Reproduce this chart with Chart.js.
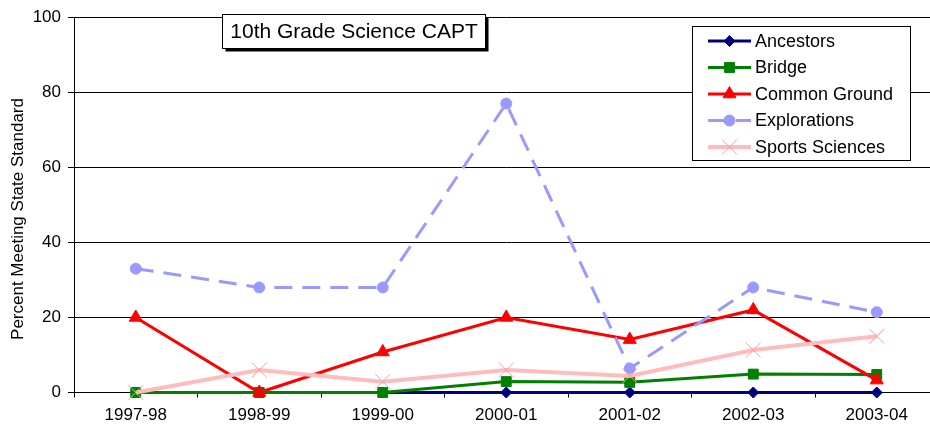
<!DOCTYPE html>
<html>
<head>
<meta charset="utf-8">
<script src="https://cdn.jsdelivr.net/npm/chart.js@4/dist/chart.umd.min.js"></script>
<style>
  html, body { margin: 0; padding: 0; background: #fff; overflow: hidden; }
  /* the category axis runs a few pixels past the right edge */
  #wrap { width: 930px; height: 432px; overflow: hidden; }
</style>
</head>
<body>
<div id="wrap"><canvas id="capt" width="950" height="432"></canvas></div>
<script>
  'use strict';

  const years = ['1997-98', '1998-99', '1999-00', '2000-01', '2001-02', '2002-03', '2003-04'];

  const ancestors = [0, 0, 0, 0, 0, 0, 0];
  const bridge = [0, 0, 0, 2.9, 2.7, 4.9, 4.8];
  const commonGround = [20, 0, 10.8, 20, 14.1, 22, 3.3];
  const explorations = [33, 28, 28, 77, 6.4, 28, 21.4];
  const sportsSciences = [0, 6, 2.9, 6, 4.4, 11.3, 15];

  const yTicks = [0, 20, 40, 60, 80, 100];

  const FONT = 'Arial, "Liberation Sans", sans-serif';
  const INK = '#000000';

  function series(label, data, color, style, extra) {
    return Object.assign({
      label: label,
      data: data,
      borderColor: color,
      backgroundColor: color,
      borderWidth: 3,
      pointStyle: style,
      pointRadius: 5,
      pointBorderWidth: 1,
      pointBorderColor: color,
      pointBackgroundColor: color,
      tension: 0,
      clip: false,
    }, extra || {});
  }

  // Excel-style boxes: chart title with drop shadow, legend inside the plot,
  // and the rotated value-axis title.
  const decorations = {
    id: 'decorations',
    afterDraw(chart) {
      const ctx = chart.ctx;
      ctx.save();

      // title box
      const tx = 222.5, ty = 14.5, tw = 263, th = 34;
      ctx.fillStyle = INK;
      ctx.fillRect(tx + 3, ty + 3, tw, th);
      ctx.fillStyle = '#fff';
      ctx.fillRect(tx, ty, tw, th);
      ctx.strokeStyle = INK;
      ctx.lineWidth = 1;
      ctx.strokeRect(tx, ty, tw, th);
      ctx.fillStyle = INK;
      ctx.font = '21px ' + FONT;
      ctx.textAlign = 'center';
      ctx.textBaseline = 'middle';
      ctx.fillText('10th Grade Science CAPT', tx + tw / 2, ty + th / 2 + 1);

      // legend box
      const lx = 692.5, ly = 26.5, lw = 218, lh = 134;
      ctx.fillStyle = '#fff';
      ctx.fillRect(lx, ly, lw, lh);
      ctx.strokeRect(lx, ly, lw, lh);
      ctx.font = '18px ' + FONT;
      ctx.textAlign = 'left';
      chart.data.datasets.forEach((ds, i) => {
        const y = 41 + i * 26.5;
        ctx.save();
        ctx.strokeStyle = ds.borderColor;
        ctx.lineWidth = ds.borderWidth;
        ctx.setLineDash(ds.borderDash || []);
        ctx.beginPath();
        ctx.moveTo(708, y);
        ctx.lineTo(751, y);
        ctx.stroke();
        ctx.setLineDash([]);
        ctx.fillStyle = ds.pointBackgroundColor;
        ctx.strokeStyle = ds.pointBorderColor;
        ctx.lineWidth = ds.pointBorderWidth;
        Chart.helpers.drawPoint(ctx, {
          pointStyle: ds.pointStyle,
          radius: ds.pointRadius,
          borderWidth: ds.pointBorderWidth,
          rotation: 0,
        }, 729.5, y);
        ctx.restore();
        ctx.fillStyle = INK;
        ctx.fillText(ds.label, 755, y + 1);
      });

      // value-axis title
      ctx.translate(18, 219);
      ctx.rotate(-Math.PI / 2);
      ctx.font = '17px ' + FONT;
      ctx.textAlign = 'center';
      ctx.fillText('Percent Meeting State Standard', 0, 0);
      ctx.restore();
    },
  };

  new Chart(document.getElementById('capt'), {
    type: 'line',
    data: {
      labels: years,
      datasets: [
        series('Ancestors', ancestors, '#000080', 'rectRot', { order: 4, pointRadius: 5.5 }),
        series('Bridge', bridge, '#008000', 'rect', { order: 3, pointRadius: 7 }),
        series('Common Ground', commonGround, '#ff0000', 'triangle', { order: 2, pointRadius: 7.5 }),
        series('Explorations', explorations, '#9999ff', 'circle', {
          order: 1, pointRadius: 5.5, borderDash: [18, 10],
        }),
        series('Sports Sciences', sportsSciences, '#ffbcbc', 'crossRot', {
          order: 0, borderWidth: 4, pointRadius: 10.5,
          pointBorderColor: '#ff9a9a', pointBackgroundColor: '#ff9a9a',
        }),
      ],
    },
    options: {
      responsive: false,
      animation: false,
      devicePixelRatio: 1,
      layout: { padding: { top: 15.5, right: 0.7, left: 0, bottom: 0 } },
      plugins: {
        legend: { display: false },
        tooltip: { enabled: false },
        title: { display: false },
      },
      scales: {
        x: {
          offset: true,
          afterFit: (scale) => { scale.height = 39.5; },
          border: { display: true, color: INK, width: 1 },
          grid: {
            offset: true,
            drawOnChartArea: false,
            drawTicks: true,
            tickLength: 5,
            color: INK,
          },
          ticks: {
            color: INK,
            padding: 8,
            maxRotation: 0,
            font: { family: FONT, size: 17 },
          },
        },
        y: {
          min: 0,
          max: 100,
          afterFit: (scale) => { scale.width = 74; },
          afterBuildTicks: (scale) => { scale.ticks = yTicks.map((v) => ({ value: v })); },
          border: { display: true, color: INK, width: 1 },
          grid: {
            color: INK,
            lineWidth: 1,
            drawTicks: true,
            tickLength: 6,
          },
          ticks: {
            color: INK,
            padding: 7,
            font: { family: FONT, size: 17 },
          },
        },
      },
    },
    plugins: [decorations],
  });
</script>
</body>
</html>
